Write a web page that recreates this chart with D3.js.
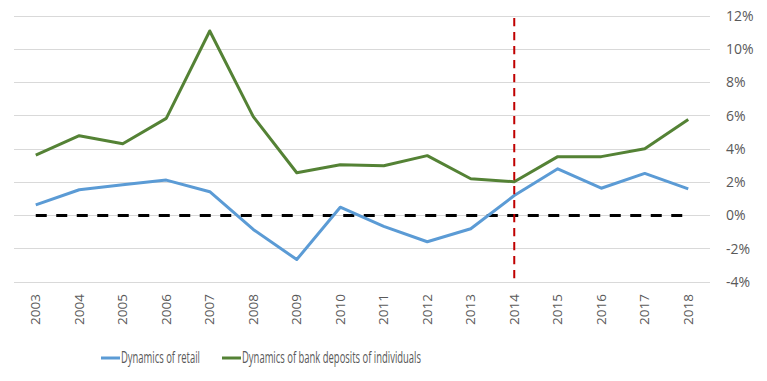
<!DOCTYPE html>
<html><head><meta charset="utf-8">
<script src="https://cdn.jsdelivr.net/npm/d3@7"></script>
<style>body{margin:0;background:#fff}svg{display:block}text{font-family:"Open Sans",sans-serif;fill:#595959}</style>
</head><body><svg id="c" width="767" height="381"></svg>
<script>
const years = ["2003","2004","2005","2006","2007","2008","2009","2010","2011","2012","2013","2014","2015","2016","2017","2018"];
const retail = [0.64,1.55,1.85,2.13,1.43,-0.84,-2.65,0.50,-0.65,-1.58,-0.80,1.20,2.81,1.64,2.53,1.60];
const deposits = [3.63,4.80,4.32,5.84,11.10,5.95,2.57,3.05,2.99,3.60,2.21,2.03,3.54,3.54,4.02,5.77];
const yTicks = [-4,-2,0,2,4,6,8,10,12];
const markerYear = "2014";
const seriesNames = ["Dynamics of retail","Dynamics of bank deposits of individuals"];
const colors = ["#5b9bd5","#548235"];

const svg = d3.select("#c");
const x = d3.scaleBand().domain(years).range([14,710]);
const y = d3.scaleLinear().domain([-4,12]).range([282,16]);
const cx = d => x(d) + x.bandwidth()/2;

svg.append("g").selectAll("line").data(yTicks).join("line")
  .attr("x1",14).attr("x2",710).attr("y1",d=>y(d)).attr("y2",d=>y(d))
  .attr("stroke","#d9d9d9").attr("stroke-width",1).attr("shape-rendering","crispEdges");

const yAxis = d3.axisRight(y).tickValues(yTicks).tickSize(0).tickPadding(0).tickFormat(d=>d+"%");
const ya = svg.append("g").attr("transform","translate(726,0)").call(yAxis);
ya.select(".domain").remove();
ya.selectAll("text").attr("font-size",14).attr("fill","#595959").style("font-family","'Open Sans',sans-serif");

const xAxis = d3.axisBottom(x).tickSize(0).tickPadding(0);
const xa = svg.append("g").attr("transform","translate(0,292)").call(xAxis);
xa.select(".domain").remove();
xa.selectAll("text").attr("font-size",13.5).attr("fill","#595959")
  .attr("transform","rotate(-90)").attr("text-anchor","end").attr("dy","0.35em").attr("x",-2).attr("y",0)
  .style("font-family","'Open Sans',sans-serif");

svg.append("line").attr("x1",cx(years[0])).attr("x2",cx(years[years.length-1]))
  .attr("y1",y(0)).attr("y2",y(0)).attr("stroke","#000").attr("stroke-width",3.2)
  .attr("stroke-dasharray","11,9.5");

const line = d3.line().x((d,i)=>cx(years[i])).y(d=>y(d));
[retail,deposits].forEach((s,k)=>{
  svg.append("path").datum(s).attr("d",line).attr("fill","none")
    .attr("stroke",colors[k]).attr("stroke-width",3).attr("stroke-linejoin","round");
});

svg.append("line").attr("x1",cx(markerYear)).attr("x2",cx(markerYear))
  .attr("y1",18).attr("y2",280).attr("stroke","#c00000").attr("stroke-width",2)
  .attr("stroke-dasharray","8.3,5.7");

const leg = [{x:101,w:79,name:seriesNames[0],c:colors[0]},{x:222,w:179,name:seriesNames[1],c:colors[1]}];
leg.forEach(l=>{
  svg.append("line").attr("x1",l.x).attr("x2",l.x+19).attr("y1",358).attr("y2",358)
    .attr("stroke",l.c).attr("stroke-width",3);
  svg.append("text").attr("x",l.x+20).attr("y",358).attr("dy","0.35em").attr("font-size",15.5)
    .attr("textLength",l.w).attr("lengthAdjust","spacingAndGlyphs").text(l.name);
});
</script></body></html>
